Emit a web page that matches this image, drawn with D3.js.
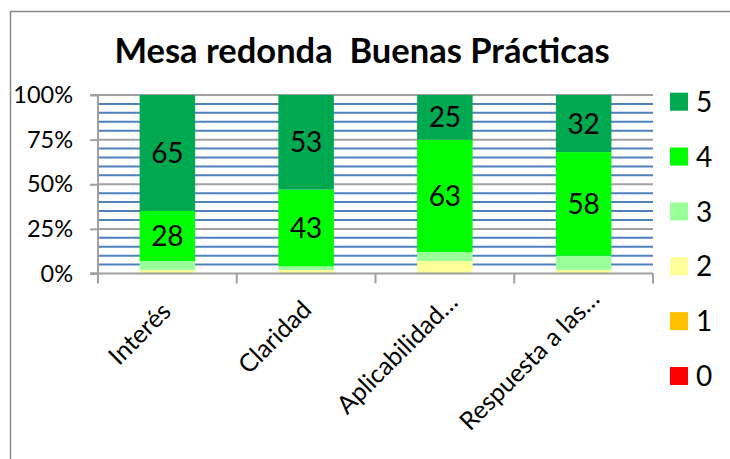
<!DOCTYPE html>
<html>
<head>
<meta charset="utf-8">
<script src="https://cdn.jsdelivr.net/npm/d3@7"></script>
<style>
  html, body { margin: 0; padding: 0; background: #fff; }
  svg { display: block; font-family: Lato, "Open Sans", sans-serif; }
</style>
</head>
<body>
<svg id="chart" width="730" height="459"></svg>
<script>
// ---- data ----
const title = "Mesa redonda\u00a0 Buenas Prácticas";
const categories = ["Interés", "Claridad", "Aplicabilidad…", "Respuesta a las…"];
const seriesNames = ["0", "1", "2", "3", "4", "5"];
const seriesColors = ["#FF0000", "#FFC000", "#FFFF99", "#99FF99", "#00FF00", "#00A850"];
const s0 = [0, 0, 0, 0];
const s1 = [0, 0, 0, 0];
const s2 = [2, 2, 7, 2];
const s3 = [5, 2, 5, 8];
const s4 = [28, 43, 63, 58];
const s5 = [65, 53, 25, 32];
const labeledSeries = ["4", "5"];
const yTicks = [0, 0.25, 0.5, 0.75, 1];
const yMinor = d3.range(0.05, 1.0001, 0.05);

const seriesValues = [s0, s1, s2, s3, s4, s5];

const svg = d3.select("#chart");
const W = 730, H = 459;
const plot = { left: 98, right: 653, top: 95, bottom: 273.5 };

// chart frame
svg.append("path")
  .attr("d", `M10.5,${H} V11.5 H${W}`)
  .attr("fill", "none").attr("stroke", "#888").attr("stroke-width", 1.5);

// title
svg.append("text")
  .attr("x", 362).attr("y", 63)
  .attr("text-anchor", "middle")
  .attr("font-weight", "bold").attr("font-size", 34.5)
  .attr("fill", "#000")
  .text(title);

const x = d3.scaleBand().domain(categories).range([plot.left, plot.right]).paddingInner(0).paddingOuter(0);
const y = d3.scaleLinear().domain([0, 1]).range([plot.bottom, plot.top]);

// stack
const rows = categories.map((c, i) => {
  const r = { cat: c };
  seriesNames.forEach((s, k) => r[s] = seriesValues[k][i]);
  return r;
});
const totals = rows.map(r => d3.sum(seriesNames, s => r[s]));
const norm = rows.map((r, i) => {
  const o = { cat: r.cat };
  seriesNames.forEach(s => o[s] = r[s] / totals[i]);
  return o;
});
const stack = d3.stack().keys(seriesNames)(norm);

// minor gridlines
svg.append("g").selectAll("line")
  .data(yMinor.filter(v => Math.abs(v * 4 - Math.round(v * 4)) > 1e-6))
  .join("line")
  .attr("x1", plot.left).attr("x2", plot.right)
  .attr("y1", d => y(d)).attr("y2", d => y(d))
  .attr("stroke", "#4F81BD").attr("stroke-width", 2);

// major gridlines
svg.append("g").selectAll("line")
  .data(yTicks.filter(v => v > 0))
  .join("line")
  .attr("x1", plot.left).attr("x2", plot.right)
  .attr("y1", d => y(d)).attr("y2", d => y(d))
  .attr("stroke", "#A0A0A0").attr("stroke-width", 2);

// bars
const barW = x.bandwidth() * 0.4;
const gBars = svg.append("g");
stack.forEach((layer, k) => {
  gBars.append("g").attr("fill", seriesColors[k])
    .selectAll("rect")
    .data(layer)
    .join("rect")
    .attr("x", d => x(d.data.cat) + x.bandwidth() / 2 - barW / 2)
    .attr("width", barW)
    .attr("y", d => y(d[1]))
    .attr("height", d => Math.max(0, y(d[0]) - y(d[1])));
});

// data labels
stack.forEach((layer, k) => {
  if (!labeledSeries.includes(seriesNames[k])) return;
  svg.append("g").selectAll("text")
    .data(layer.map((d, i) => ({ d, v: seriesValues[k][i] })))
    .join("text")
    .attr("x", o => x(o.d.data.cat) + x.bandwidth() / 2)
    .attr("y", o => (y(o.d[0]) + y(o.d[1])) / 2)
    .attr("dy", "0.36em")
    .attr("text-anchor", "middle")
    .attr("font-size", 28)
    .attr("fill", "#000")
    .text(o => o.v);
});

// y axis
const yAxis = d3.axisLeft(y).tickValues(yTicks).tickFormat(d3.format(".0%")).tickSize(8).tickPadding(17);
const gy = svg.append("g").attr("transform", `translate(${plot.left},0)`).call(yAxis);
gy.select(".domain").attr("stroke", "#A0A0A0").attr("stroke-width", 2).attr("d", `M-8,${plot.bottom}H0V${plot.top}H-8`);
gy.selectAll(".tick line").attr("stroke", "#A0A0A0").attr("stroke-width", 2);
gy.selectAll(".tick text").attr("font-size", 23.5).attr("font-family", "Lato, sans-serif").attr("fill", "#000");

// x axis baseline & ticks
svg.append("line")
  .attr("x1", plot.left - 8).attr("x2", plot.right)
  .attr("y1", plot.bottom).attr("y2", plot.bottom)
  .attr("stroke", "#A0A0A0").attr("stroke-width", 2);
const bounds = categories.map(c => x(c)).concat([plot.right]);
svg.append("g").selectAll("line")
  .data(bounds)
  .join("line")
  .attr("x1", d => d).attr("x2", d => d)
  .attr("y1", plot.bottom).attr("y2", plot.bottom + 10)
  .attr("stroke", "#A0A0A0").attr("stroke-width", 2);

// x labels rotated
const xl = svg.append("g").selectAll("text")
  .data(categories)
  .join("text")
  .attr("text-anchor", "end")
  .attr("font-size", 25)
  .attr("fill", "#000")
  .text(d => d);
const L0 = xl.nodes()[0].getComputedTextLength();
xl.attr("transform", function (d) {
  const L = this.getComputedTextLength();
  const shift = 0.16 * (L - L0);
  const px = x(d) + x.bandwidth() / 2 + 5 + shift * Math.SQRT1_2;
  const py = 313 - shift * Math.SQRT1_2;
  return `translate(${px},${py}) rotate(-45)`;
});

// legend
const legendOrder = seriesNames.slice().reverse();
const ly = d3.scaleLinear().domain([0, legendOrder.length - 1]).range([101.7, 376]);
const lg = svg.append("g");
legendOrder.forEach((s, i) => {
  const k = seriesNames.indexOf(s);
  const cy = ly(i);
  lg.append("rect").attr("x", 670).attr("y", cy - 9).attr("width", 18).attr("height", 18).attr("fill", seriesColors[k]);
  lg.append("text").attr("x", 696).attr("y", cy).attr("dy", "0.36em").attr("font-size", 28).attr("fill", "#000").text(s);
});
</script>
</body>
</html>
